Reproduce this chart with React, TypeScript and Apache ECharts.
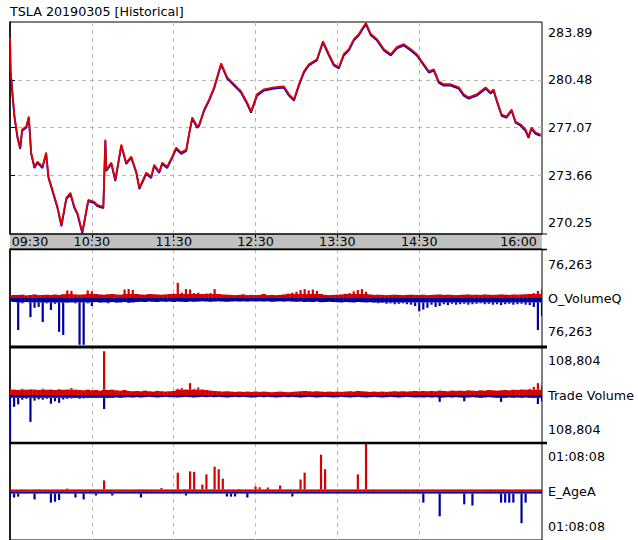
import React, { useEffect, useRef } from 'react';
import * as echarts from 'echarts';

const chartTitle = 'TSLA 20190305 [Historical]';
const timeLabelMinutes = [0, 60, 120, 180, 240, 300, 390];
const timeLabels = ['09:30', '10:30', '11:30', '12:30', '13:30', '14:30', '16:00'];
const timeGridMinutes = [60, 120, 180, 240, 300];
const priceLabelValues = [270.25, 273.66, 277.07, 280.48, 283.89];
const priceGridValues = [273.66, 277.07, 280.48];

const priceMinutes = [
  0, 0.4, 2.0, 3.3, 5.5, 7.5, 8.9, 11.9, 13.8, 15.5, 17.9, 20.1, 23.8, 26.5, 28.2, 31.1, 34.8, 37.7, 41.3, 44.3,
  47.2, 49.4, 53.0, 56.0, 57.4, 61.8, 64.0, 68.4, 69.9, 70.6, 74.3, 77.2, 81.6, 85.2, 88.9, 92.6, 94.8, 99.9, 103.5, 105.7,
  109.4, 111.6, 115.2, 118.9, 121.8, 125.5, 129.2, 131.4, 133.6, 137.2, 138.7, 142.3, 146.0, 149.6, 154.8, 159.2, 164.3, 169.4, 173.8, 176.7,
  181.1, 186.2, 193.5, 200.8, 204.5, 208.2, 211.8, 215.5, 219.1, 225.0, 229.4, 233.8, 237.4, 241.1, 244.7, 248.4, 252.1, 255.7, 260.9, 264.5,
  269.0, 274.1, 279.2, 283.6, 288.7, 293.8, 298.2, 303.4, 307.0, 310.7, 314.3, 318.0, 323.1, 329.0, 332.6, 336.3, 342.1, 348.7, 352.3, 354.5,
  356.7, 360.4, 364.0, 367.7, 370.6, 374.3, 377.9, 380.1, 382.3, 385.3, 389.0,
];
const prices = [
  283.53, 281.23, 279.30, 277.86, 276.42, 275.63, 276.93, 277.14, 277.86, 275.28, 274.27, 274.63, 274.27, 275.28, 273.55, 272.62, 271.40, 270.11, 272.05, 272.40,
  271.40, 270.97, 269.60, 271.18, 271.90, 271.76, 271.54, 271.40, 276.21, 274.05, 274.56, 273.34, 275.85, 274.56, 274.99, 273.91, 272.76, 273.84, 273.55, 274.41,
  273.91, 274.56, 274.27, 274.99, 275.63, 275.28, 275.49, 276.71, 277.79, 277.14, 277.29, 278.36, 279.08, 279.94, 281.66, 280.66, 280.16, 279.65, 278.86, 278.22,
  279.44, 279.80, 279.94, 280.01, 279.44, 279.08, 280.16, 281.09, 281.59, 281.95, 283.24, 282.31, 281.59, 281.38, 282.31, 282.67, 283.39, 283.75, 284.54, 283.75,
  283.39, 282.67, 282.31, 282.81, 283.03, 282.67, 282.31, 281.59, 281.09, 281.23, 280.37, 280.16, 280.16, 279.94, 279.44, 279.22, 279.44, 279.94, 279.58, 279.80,
  279.08, 278.00, 277.86, 278.36, 277.50, 277.29, 276.93, 276.42, 277.07, 276.71, 276.57,
];

// bars: one value per 3 minutes, 09:30 .. 16:00
const barStepMinutes = 3;
const oVolumeUp = [
  6000, 7000, 6500, 7500, 6000, 7000, 8000, 6500, 7000, 7500,
  7000, 8000, 7000, 8500, 17000, 16000, 8000, 7500, 8000, 17000,
  15000, 9000, 8000, 7500, 8500, 9000, 8000, 7500, 19000, 20000,
  18000, 9000, 8000, 7500, 9000, 8500, 8000, 7500, 8000, 9000,
  10000, 34000, 12000, 20000, 19000, 11000, 12000, 9000, 10000, 11000,
  20000, 9000, 8000, 7500, 7000, 6500, 7000, 8000, 6500, 7000,
  6500, 7000, 9000, 6500, 7000, 6500, 7000, 8000, 10000, 12000,
  14000, 18000, 20000, 17000, 19000, 16000, 9000, 7000, 6500, 7000,
  7500, 8000, 9500, 11000, 15000, 18000, 20000, 14000, 8000, 7000,
  7500, 7000, 6500, 7000, 7500, 7000, 6500, 7000, 7500, 7000,
  7000, 7500, 6500, 7000, 7500, 8000, 7000, 7500, 7000, 6500,
  7000, 7500, 8000, 7000, 7500, 7000, 8000, 7500, 7000, 7500,
  8000, 7500, 7000, 8000, 7500, 8000, 8500, 9000, 11000, 16000, 19000,
];
const oVolumeDown = [
  8000, 9000, 72000, 12000, 9000, 43000, 22000, 20000, 54000, 12000,
  27000, 13000, 76000, 83000, 11000, 10000, 12000, 105000, 105000, 12000,
  18000, 9000, 11000, 10000, 12000, 9000, 11000, 10000, 9000, 11000,
  10000, 9000, 8500, 9000, 8000, 8500, 9000, 8000, 8500, 8000,
  9000, 8000, 8500, 9000, 8000, 8500, 8000, 7500, 8000, 8500,
  8000, 7500, 8000, 8500, 8000, 7500, 8000, 7500, 8000, 7500,
  8000, 7500, 8000, 7500, 8500, 8000, 7500, 8000, 7500, 8000,
  8500, 8000, 9000, 8500, 9000, 8000, 9500, 9000, 8500, 9000,
  9500, 10000, 9000, 9500, 10000, 9000, 9500, 10000, 9500, 11000,
  12000, 11000, 13000, 12000, 14000, 13000, 12000, 14000, 15000, 18000,
  30000, 26000, 22000, 15000, 20000, 18000, 14000, 16000, 13000, 15000,
  14000, 13000, 15000, 14000, 13000, 12000, 14000, 13000, 15000, 14000,
  16000, 14000, 13000, 15000, 14000, 13000, 15000, 16000, 20000, 72000, 40000,
];
const tradeVolumeUp = [
  22000, 18000, 16000, 20000, 17000, 19000, 18000, 16000, 20000, 17000,
  18000, 16000, 19000, 17000, 18000, 22000, 17000, 16000, 15000, 17000,
  15000, 16000, 14000, 140000, 16000, 17000, 15000, 14000, 16000, 13000,
  12000, 13000, 12000, 14000, 12000, 11000, 13000, 12000, 11000, 12000,
  13000, 20000, 22000, 18000, 38000, 20000, 24000, 18000, 16000, 14000,
  13000, 12000, 11000, 12000, 11000, 10000, 11000, 10000, 11000, 10000,
  11000, 10000, 11000, 10000, 9000, 10000, 11000, 10000, 9000, 10000,
  11000, 12000, 13000, 12000, 11000, 12000, 11000, 10000, 11000, 10000,
  11000, 10000, 11000, 12000, 11000, 13000, 12000, 11000, 10000, 11000,
  10000, 11000, 10000, 11000, 12000, 11000, 12000, 11000, 12000, 13000,
  12000, 13000, 12000, 13000, 12000, 14000, 13000, 12000, 14000, 13000,
  14000, 13000, 15000, 14000, 13000, 15000, 14000, 16000, 15000, 14000,
  15000, 16000, 15000, 17000, 16000, 18000, 17000, 20000, 26000, 38000, 30000,
];
const tradeVolumeDown = [
  150000, 38000, 30000, 15000, 12000, 86000, 18000, 14000, 15000, 12000,
  28000, 20000, 25000, 14000, 12000, 11000, 10000, 12000, 11000, 10000,
  9000, 10000, 9000, 45000, 10000, 9000, 8000, 9000, 8000, 7000,
  8000, 7000, 8000, 7000, 6000, 7000, 8000, 7000, 6000, 7000,
  7000, 8000, 7000, 6000, 7000, 8000, 7000, 6000, 7000, 6000,
  7000, 6000, 7000, 8000, 7000, 6000, 7000, 6000, 7000, 8000,
  7000, 6000, 7000, 6000, 7000, 8000, 7000, 6000, 7000, 6000,
  7000, 8000, 7000, 6000, 7000, 8000, 7000, 6000, 7000, 8000,
  7000, 6000, 7000, 8000, 7000, 6000, 7000, 8000, 7000, 6000,
  7000, 8000, 7000, 6000, 7000, 8000, 7000, 6000, 7000, 8000,
  7000, 8000, 7000, 8000, 7000, 22000, 8000, 7000, 8000, 7000,
  8000, 20000, 8000, 7000, 8000, 9000, 8000, 7000, 8000, 9000,
  22000, 9000, 8000, 9000, 8000, 9000, 8000, 9000, 10000, 29000, 20000,
];
const ageUp = [
  240, 240, 240, 240, 240, 240, 240, 240, 240, 240,
  240, 240, 240, 240, 350, 240, 240, 240, 240, 240,
  240, 240, 240, 1300, 240, 240, 240, 240, 240, 240,
  240, 240, 240, 240, 240, 240, 240, 400, 240, 240,
  240, 2200, 240, 240, 2350, 2300, 240, 820, 2000, 240,
  2900, 2600, 1500, 240, 240, 240, 300, 240, 240, 240,
  580, 500, 240, 470, 240, 240, 700, 240, 240, 240,
  240, 1400, 2200, 240, 240, 240, 4300, 2600, 240, 240,
  240, 240, 240, 240, 240, 2000, 240, 5600, 240, 240,
  240, 240, 240, 240, 240, 240, 240, 240, 240, 240,
  240, 240, 240, 240, 240, 240, 240, 240, 240, 240,
  240, 240, 240, 240, 240, 240, 240, 240, 240, 240,
  240, 240, 240, 240, 240, 240, 240, 240, 240, 240, 240,
];
const ageDown = [
  700, 700, 600, 240, 240, 240, 930, 240, 240, 240,
  1300, 1200, 1000, 240, 240, 240, 700, 240, 930, 240,
  240, 470, 240, 240, 240, 470, 240, 240, 240, 240,
  240, 240, 700, 240, 240, 240, 240, 240, 240, 240,
  240, 240, 240, 470, 240, 240, 240, 240, 240, 240,
  240, 240, 240, 580, 600, 580, 240, 240, 700, 240,
  240, 240, 240, 240, 240, 240, 240, 240, 240, 580,
  240, 240, 240, 240, 240, 240, 240, 240, 240, 240,
  240, 240, 240, 240, 240, 240, 240, 240, 240, 240,
  240, 240, 240, 240, 240, 240, 240, 240, 240, 240,
  240, 1300, 240, 240, 240, 2900, 240, 240, 240, 240,
  240, 1500, 240, 1640, 240, 240, 240, 240, 240, 240,
  1300, 1300, 1300, 1300, 240, 3700, 1300, 240, 240, 240, 240,
];

const panelNames = ['O_VolumeQ', 'Trade Volume', 'E_AgeA'];
const panelScaleLabels = ['76,263', '108,804', '01:08:08'];
const panelScaleValues = [76263, 108804, 4088];

const RED = '#d60000';
const BLUE = '#00009c';
const FONT = 'DejaVu Sans';
const FS = 12.7;

export default function App() {
  const ref = useRef<HTMLDivElement>(null);
  useEffect(() => {
    if (!ref.current) return;
    const chart = echarts.init(ref.current, undefined, { renderer: 'svg' });

    const priceMin = 269.46;
    const priceMax = 284.61;
    const blueShift = 0.095;
    const panelRanges = [110000, 153600, 5665];
    const upSeries = [oVolumeUp, tradeVolumeUp, ageUp];
    const downSeries = [oVolumeDown, tradeVolumeDown, ageDown];
    // magnitude up to which a bar is drawn as a full-width block; the rest as a thin spike
    const blockLevels = [
      [9000, 10000],
      [17000, 9000],
      [240, 240],
    ];

    const grids = [
      { top: 22, height: 212 },
      { top: 249, height: 98 },
      { top: 347, height: 96 },
      { top: 443, height: 99 },
    ].map((g) => ({ ...g, left: 10, right: 96, show: true, borderColor: '#000', borderWidth: 1 }));

    const dashed = { show: true, lineStyle: { color: '#b8b8b8', width: 1, type: [4, 4] as any } };

    const xAxes = grids.map((_, i) => ({
      type: 'value',
      gridIndex: i,
      min: 0,
      max: 390,
      axisLine: { show: false },
      axisTick: {
        show: i === 0,
        customValues: timeGridMinutes,
        length: 4,
        lineStyle: { color: '#000', width: 1 },
      },
      axisLabel:
        i === 0
          ? {
              show: true,
              customValues: timeLabelMinutes,
              margin: 1,
              color: '#000',
              fontFamily: FONT,
              fontSize: FS,
              formatter: (v: number) => {
                const idx = timeLabelMinutes.indexOf(Math.round(v));
                const s = idx >= 0 ? timeLabels[idx] : '';
                if (idx === 0) return '{first|' + s + '}';
                if (idx === timeLabelMinutes.length - 1) return '{last|' + s + '}';
                return s;
              },
              rich: {
                first: { padding: [0, 0, 0, 40], color: '#000', fontFamily: FONT, fontSize: FS },
                last: { padding: [0, 47, 0, 0], color: '#000', fontFamily: FONT, fontSize: FS },
              },
            }
          : { show: false },
      splitLine: dashed,
    }));

    const yAxes: any[] = [
      {
        type: 'value',
        gridIndex: 0,
        position: 'right',
        min: priceMin,
        max: priceMax,
        axisLine: { show: true, lineStyle: { color: '#000', width: 1.5 } },
        axisTick: { show: true, customValues: priceGridValues, length: 5, lineStyle: { color: '#000' } },
        axisLabel: {
          show: true,
          customValues: priceLabelValues,
          margin: 6,
          color: '#000',
          fontFamily: FONT,
          fontSize: FS,
          formatter: (v: number) => v.toFixed(2),
        },
        splitLine: dashed,
      },
    ];
    for (let p = 0; p < 3; p++) {
      const L = panelScaleValues[p];
      yAxes.push({
        type: 'value',
        gridIndex: p + 1,
        position: 'right',
        min: -panelRanges[p],
        max: panelRanges[p],
        axisLine: { show: true, lineStyle: { color: '#000', width: 1.5 } },
        axisTick: { show: false },
        splitLine: { show: false },
        axisLabel: {
          show: true,
          customValues: [L, 0, -L],
          margin: 6,
          color: '#000',
          fontFamily: FONT,
          fontSize: FS,
          formatter: (v: number) => (Math.abs(v) < 1e-6 ? panelNames[p] : panelScaleLabels[p]),
        },
      });
    }
    // hidden, slightly shifted axis for the blue under-line of the price
    yAxes.push({
      type: 'value',
      gridIndex: 0,
      show: false,
      min: priceMin + blueShift,
      max: priceMax + blueShift,
    });

    const series: any[] = [
      {
        type: 'line',
        xAxisIndex: 0,
        yAxisIndex: 4,
        data: priceMinutes.map((t, i) => [t, prices[i]]),
        symbol: 'none',
        lineStyle: { color: '#0000c8', width: 1.8 },
        z: 3,
      },
      {
        type: 'line',
        xAxisIndex: 0,
        yAxisIndex: 0,
        data: priceMinutes.map((t, i) => [t, prices[i]]),
        symbol: 'none',
        lineStyle: { color: '#e00000', width: 1.8 },
        z: 4,
      },
    ];

    const makeBars = (p: number, values: number[], sign: number, color: string, block: number) => ({
      type: 'custom',
      xAxisIndex: p + 1,
      yAxisIndex: p + 1,
      clip: true,
      encode: { x: 0, y: 1 },
      data: values.map((v, k) => [k * barStepMinutes, sign * v]),
      renderItem: (params: any, api: any) => {
        const t = api.value(0) as number;
        const v = api.value(1) as number;
        const zero = api.coord([t, 0]);
        const top = api.coord([t, v]);
        const bv = Math.sign(v) * Math.min(Math.abs(v), block);
        const bt = api.coord([t, bv]);
        const slot = api.size([barStepMinutes, 0])[0];
        const children: any[] = [
          {
            type: 'rect',
            shape: {
              x: zero[0] - slot / 2 - 0.2,
              y: Math.min(zero[1], bt[1]),
              width: slot + 0.4,
              height: Math.abs(bt[1] - zero[1]),
            },
            style: { fill: color },
          },
        ];
        if (Math.abs(v) > block) {
          children.push({
            type: 'rect',
            shape: {
              x: zero[0] - 1.1,
              y: Math.min(top[1], bt[1]),
              width: 2.2,
              height: Math.abs(top[1] - bt[1]),
            },
            style: { fill: color },
          });
        }
        return { type: 'group', children };
      },
    });

    for (let p = 0; p < 3; p++) {
      series.push(makeBars(p, upSeries[p], 1, RED, blockLevels[p][0]));
      series.push(makeBars(p, downSeries[p], -1, BLUE, blockLevels[p][1]));
    }

    chart.setOption({
      animation: false,
      backgroundColor: '#fff',
      title: {
        text: chartTitle,
        left: 10,
        top: 5,
        padding: 0,
        textStyle: { fontFamily: FONT, fontSize: FS, fontWeight: 'normal', color: '#000' },
      },
      grid: grids,
      xAxis: xAxes,
      yAxis: yAxes,
      series,
      graphic: [
        {
          type: 'rect',
          z: -1,
          shape: { x: 10, y: 234, width: 532, height: 15 },
          style: { fill: '#c0c0c0' },
        },
        { type: 'line', z: 10, shape: { x1: 10, y1: 234, x2: 547, y2: 234 }, style: { stroke: '#000', lineWidth: 1 } },
        { type: 'line', z: 10, shape: { x1: 10, y1: 249.5, x2: 547, y2: 249.5 }, style: { stroke: '#000', lineWidth: 1.5 } },
        { type: 'line', z: 10, shape: { x1: 10, y1: 347, x2: 547, y2: 347 }, style: { stroke: '#000', lineWidth: 3 } },
        { type: 'line', z: 10, shape: { x1: 10, y1: 443, x2: 547, y2: 443 }, style: { stroke: '#000', lineWidth: 2.6 } },
      ],
    });
    return () => chart.dispose();
  }, []);
  return (
    <div
      ref={ref}
      style={{ position: 'fixed', left: 0, top: 0, width: 638, height: 540, background: '#fff' }}
    />
  );
}
